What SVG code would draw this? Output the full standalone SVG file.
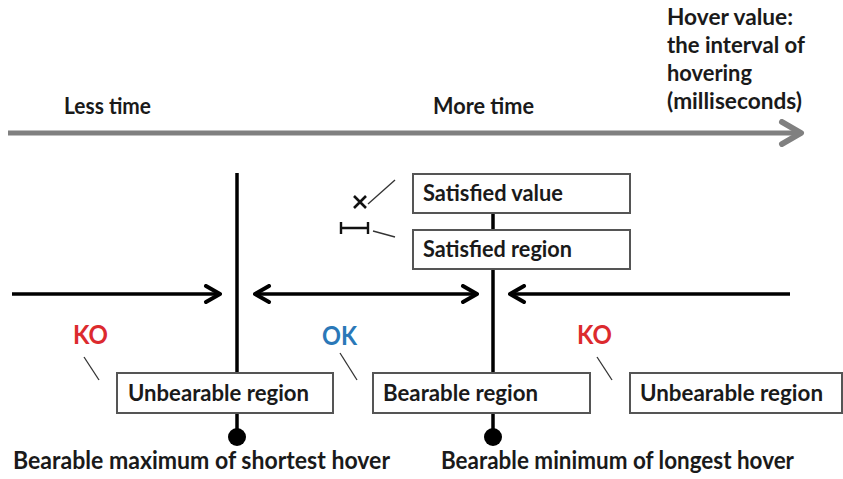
<svg xmlns="http://www.w3.org/2000/svg" width="843" height="479" viewBox="0 0 843 479">
<style>
text{font-family:"Lato","Open Sans","Liberation Sans",sans-serif;font-weight:bold;fill:#1a1a1a}
.lbl{font-size:22px}
.big{font-size:24px}
.box{fill:#fff;stroke:#555;stroke-width:2}
.ln{stroke:#000;stroke-width:3.5;fill:none}
.tick{stroke:#333;stroke-width:1.3;fill:none}
.ko{fill:#dc2a2e;font-size:27px}
.ok{fill:#2a78b8;font-size:27px}
</style>
<defs>
<marker id="ah" viewBox="0 0 20 20" refX="18" refY="10" markerWidth="20" markerHeight="20" markerUnits="userSpaceOnUse" orient="auto-start-reverse">
<path d="M4,2 L18,10 L4,18" fill="none" stroke="#000" stroke-width="4" stroke-linecap="round" stroke-linejoin="round"/>
</marker>
<marker id="gah" viewBox="0 0 28 28" refX="24" refY="14" markerWidth="28" markerHeight="28" markerUnits="userSpaceOnUse" orient="auto">
<path d="M5,3 L24,14 L5,25" fill="none" stroke="#808080" stroke-width="6" stroke-linecap="round" stroke-linejoin="round"/>
</marker>
</defs>
<rect width="843" height="479" fill="#fff"/>
<g id="axis">
<line x1="8" y1="133" x2="801" y2="133" stroke="#808080" stroke-width="5" marker-end="url(#gah)"/>
<text class="lbl" x="64" y="114" textLength="87" lengthAdjust="spacingAndGlyphs">Less time</text>
<text class="lbl" x="433" y="114" textLength="101" lengthAdjust="spacingAndGlyphs">More time</text>
<text class="lbl" x="667" y="25" textLength="126" lengthAdjust="spacingAndGlyphs">Hover value:</text>
<text class="lbl" x="667" y="53" textLength="138" lengthAdjust="spacingAndGlyphs">the interval of</text>
<text class="lbl" x="667" y="81" textLength="85" lengthAdjust="spacingAndGlyphs">hovering</text>
<text class="lbl" x="667" y="109" textLength="135" lengthAdjust="spacingAndGlyphs">(milliseconds)</text>
</g>
<g id="connectors">
<line class="ln" x1="237" y1="173" x2="237" y2="437"/>
<line class="ln" x1="493" y1="213" x2="493" y2="437"/>
<circle cx="237" cy="437" r="9" fill="#000"/>
<circle cx="493" cy="437" r="9" fill="#000"/>
<line class="ln" x1="12" y1="294" x2="220" y2="294" marker-end="url(#ah)"/>
<line class="ln" x1="255" y1="294" x2="477" y2="294" marker-start="url(#ah)" marker-end="url(#ah)"/>
<line class="ln" x1="790" y1="294" x2="510" y2="294" marker-end="url(#ah)"/>
<line class="tick" x1="368" y1="204" x2="395" y2="180"/>
<line class="tick" x1="373" y1="231" x2="395" y2="237"/>
<line class="tick" x1="84" y1="357" x2="99" y2="380"/>
<line class="tick" x1="340" y1="353" x2="357" y2="380"/>
<line class="tick" x1="597" y1="357" x2="612" y2="380"/>
</g>
<g id="legend-marks">
<path d="M354,196 L366,208 M366,196 L354,208" stroke="#111" stroke-width="2.6" fill="none"/>
<path d="M341,222 V234 M368,222 V234 M341,228 H368" stroke="#111" stroke-width="2.4" fill="none"/>
</g>
<g id="satisfied-value">
<rect class="box" x="413" y="174" width="217" height="39"/>
<text class="lbl" x="423" y="201" textLength="140" lengthAdjust="spacingAndGlyphs">Satisfied value</text>
</g>
<g id="satisfied-region">
<rect class="box" x="413" y="230" width="217" height="39"/>
<text class="lbl" x="423" y="257" textLength="149" lengthAdjust="spacingAndGlyphs">Satisfied region</text>
</g>
<g id="ko-left"><text class="ko" x="73" y="344" textLength="35" lengthAdjust="spacingAndGlyphs">KO</text></g>
<g id="ok-mid"><text class="ok" x="322" y="345" textLength="35" lengthAdjust="spacingAndGlyphs">OK</text></g>
<g id="ko-right"><text class="ko" x="577" y="344" textLength="35" lengthAdjust="spacingAndGlyphs">KO</text></g>
<g id="unbearable-left">
<rect class="box" x="117" y="373" width="216" height="40"/>
<text class="lbl" x="128" y="401" textLength="181" lengthAdjust="spacingAndGlyphs">Unbearable region</text>
</g>
<g id="bearable">
<rect class="box" x="373" y="373" width="217" height="40"/>
<text class="lbl" x="383" y="401" textLength="155" lengthAdjust="spacingAndGlyphs">Bearable region</text>
</g>
<g id="unbearable-right">
<rect class="box" x="630" y="373" width="212" height="40"/>
<text class="lbl" x="640" y="401" textLength="183" lengthAdjust="spacingAndGlyphs">Unbearable region</text>
</g>
<g id="bearable-max">
<text class="big" x="13" y="469" textLength="377" lengthAdjust="spacingAndGlyphs">Bearable maximum of shortest hover</text>
</g>
<g id="bearable-min">
<text class="big" x="441" y="469" textLength="353" lengthAdjust="spacingAndGlyphs">Bearable minimum of longest hover</text>
</g>
</svg>
